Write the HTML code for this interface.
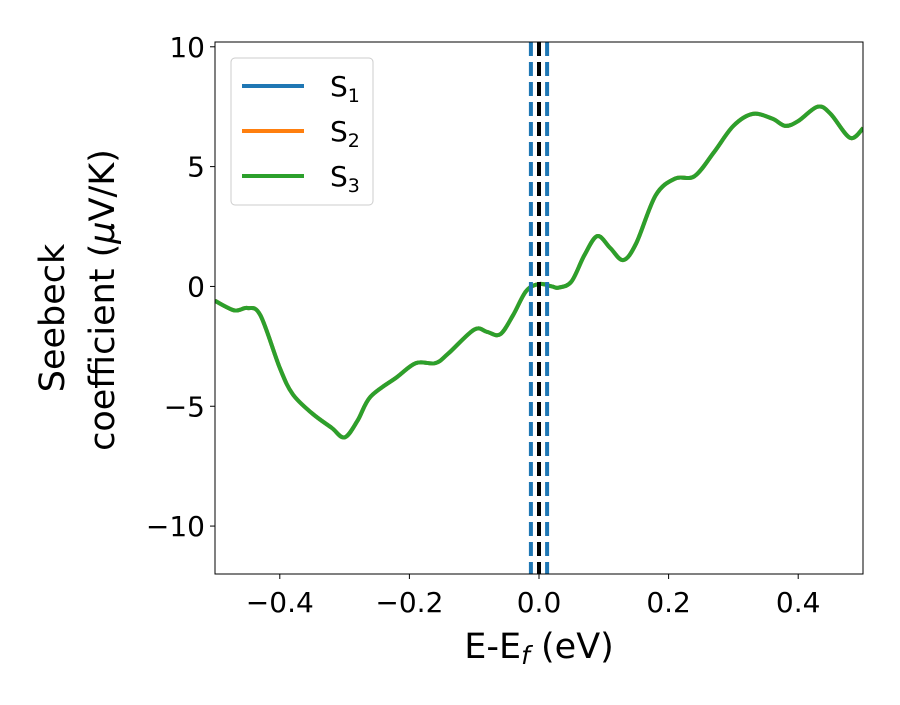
<!DOCTYPE html>
<html><head><meta charset="utf-8"><style>
body{margin:0;background:#fff}
svg text{font-family:"DejaVu Sans","Liberation Sans",sans-serif}
</style></head><body>
<svg width="900" height="700" xmlns="http://www.w3.org/2000/svg">
<g id="plot"></g>
</svg>
<script>
const xs=[-0.5,-0.47,-0.45,-0.43,-0.40,-0.38,-0.35,-0.32,-0.30,-0.28,-0.26,-0.22,-0.19,-0.16,-0.14,-0.10,-0.08,-0.06,-0.04,-0.02,0.0,0.02,0.03,0.05,0.07,0.09,0.11,0.13,0.15,0.18,0.21,0.24,0.27,0.30,0.33,0.36,0.38,0.40,0.43,0.45,0.48,0.5];
const s3=[-0.6,-1.0,-0.9,-1.2,-3.4,-4.5,-5.3,-5.9,-6.3,-5.6,-4.6,-3.8,-3.2,-3.2,-2.8,-1.8,-1.9,-2.0,-1.2,-0.2,0.1,0.0,-0.05,0.2,1.3,2.1,1.6,1.1,1.8,3.8,4.5,4.6,5.6,6.7,7.2,7.0,6.7,6.9,7.5,7.2,6.2,6.6];
const s1=s3, s2=s3;
const xTicks=[-0.4,-0.2,0.0,0.2,0.4];
const xTickLabels=["\u22120.4","\u22120.2","0.0","0.2","0.4"];
const yTicks=[-10,-5,0,5,10];
const yTickLabels=["\u221210","\u22125","0","5","10"];
const vDashed=[-0.0125,0.0125];
const L=215,R=863,T=42,B=574,xmin=-0.5,xmax=0.5,ymin=-12,ymax=10.2;
const X=v=>L+(v-xmin)/(xmax-xmin)*(R-L);
const Y=v=>B-(v-ymin)/(ymax-ymin)*(B-T);
const g=document.getElementById('plot');const NS="http://www.w3.org/2000/svg";
function mk(t,a,p){const e=document.createElementNS(NS,t);for(const k in a)e.setAttribute(k,a[k]);(p||g).appendChild(e);return e;}
function path(ys){const p=xs.map((x,i)=>[X(x),Y(ys[i])]);let d=`M${p[0][0]},${p[0][1]}`;
for(let i=0;i<p.length-1;i++){const p0=p[Math.max(0,i-1)],p1=p[i],p2=p[i+1],p3=p[Math.min(p.length-1,i+2)];
d+=` C${p1[0]+(p2[0]-p0[0])/6},${p1[1]+(p2[1]-p0[1])/6} ${p2[0]-(p3[0]-p1[0])/6},${p2[1]-(p3[1]-p1[1])/6} ${p2[0]},${p2[1]}`;}return d;}
const clip=mk('clipPath',{id:'c'});mk('rect',{x:L,y:T,width:R-L,height:B-T},clip);
const series=[[s1,'#1f77b4','series-s1'],[s2,'#ff7f0e','series-s2'],[s3,'#2ca02c','series-s3']];
series.forEach(s=>{const e=mk('path',{d:path(s[0]),fill:'none',stroke:s[1],'stroke-width':4,'clip-path':'url(#c)'});
});
vDashed.forEach(v=>{const e=mk('line',{x1:X(v),x2:X(v),y1:T,y2:B,stroke:'#1f77b4','stroke-width':4,'stroke-dasharray':'14,6'});
});
const z=mk('line',{x1:X(0),x2:X(0),y1:T,y2:B,stroke:'#000','stroke-width':4,'stroke-dasharray':'14,6'});

const fr=mk('rect',{x:L,y:T,width:R-L,height:B-T,fill:'none',stroke:'#000','stroke-width':1});

xTicks.forEach((v,i)=>{mk('line',{x1:X(v),x2:X(v),y1:B,y2:B+5,stroke:'#000'});
const t=mk('text',{x:X(v),y:B+38,'text-anchor':'middle','font-size':28});t.textContent=xTickLabels[i];
});
yTicks.forEach((v,i)=>{mk('line',{x1:L-5,x2:L,y1:Y(v),y2:Y(v),stroke:'#000'});
const t=mk('text',{x:L-10,y:Y(v)+10,'text-anchor':'end','font-size':28});t.textContent=yTickLabels[i];
});
</script>
<svg width="900" height="700" style="position:absolute;left:0;top:0" xmlns="http://www.w3.org/2000/svg">
<text x="539" y="658" text-anchor="middle" font-size="35">E-E<tspan font-style="italic" font-size="25" dy="6">f</tspan><tspan dy="-6"> (eV)</tspan></text>
<text transform="translate(64,318) rotate(-90)" text-anchor="middle" font-size="35">Seebeck</text>
<text transform="translate(114,300) rotate(-90)" text-anchor="middle" font-size="35">coefficient  (<tspan font-style="italic">μ</tspan>V/K)</text>
<g>
<rect x="231" y="58" width="142" height="147" rx="4" fill="#fff" fill-opacity="0.8" stroke="#ccc"/>
<line x1="242" x2="304" y1="86" y2="86" stroke="#1f77b4" stroke-width="4"/>
<text x="330" y="96" font-size="28">S<tspan font-size="19" dy="6">1</tspan></text>
<line x1="242" x2="304" y1="131" y2="131" stroke="#ff7f0e" stroke-width="4"/>
<text x="330" y="141" font-size="28">S<tspan font-size="19" dy="6">2</tspan></text>
<line x1="242" x2="304" y1="176" y2="176" stroke="#2ca02c" stroke-width="4"/>
<text x="330" y="186" font-size="28">S<tspan font-size="19" dy="6">3</tspan></text>
</g>
</svg>
</body></html>
